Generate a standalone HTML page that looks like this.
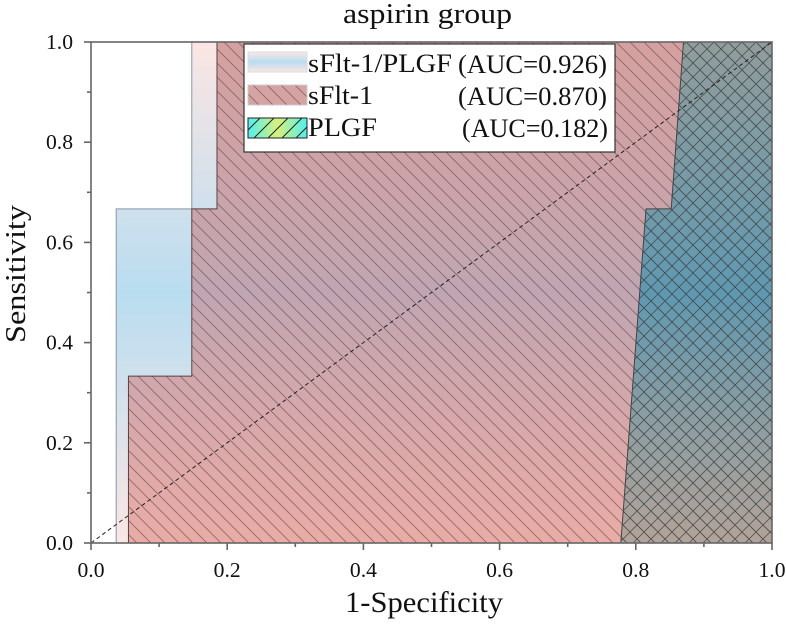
<!DOCTYPE html>
<html><head><meta charset="utf-8"><style>
body{margin:0;background:#fff}
svg{display:block;font-family:"Liberation Serif",serif}
</style></head><body>
<svg id="chart" width="786" height="624" viewBox="0 0 786 624">
<defs>
<linearGradient id="gBlue" x1="0" y1="0" x2="0" y2="1">
<stop offset="0" stop-color="#fbe6e4"/><stop offset="0.5" stop-color="#b9ddf0"/><stop offset="1" stop-color="#fbe6e4"/>
</linearGradient>
<linearGradient id="gPink" x1="0" y1="0" x2="0" y2="1">
<stop offset="0" stop-color="#c98d8c" stop-opacity="0.78"/><stop offset="0.5" stop-color="#c3858c" stop-opacity="0.62"/><stop offset="1" stop-color="#e6a29c" stop-opacity="0.85"/>
</linearGradient>
<linearGradient id="gTeal" x1="0" y1="0" x2="0" y2="1">
<stop offset="0" stop-color="#5a9a9a" stop-opacity="0.55"/><stop offset="0.5" stop-color="#1f8fb0" stop-opacity="0.6"/><stop offset="1" stop-color="#7a9a8a" stop-opacity="0.5"/>
</linearGradient>
<linearGradient id="gLegT" x1="0" y1="0" x2="1" y2="0">
<stop offset="0" stop-color="#4ff0f0"/><stop offset="0.5" stop-color="#d8f07a"/><stop offset="1" stop-color="#4ff0f0"/>
</linearGradient>
<pattern id="hatchBack" width="14" height="14" patternUnits="userSpaceOnUse">
<path d="M-2,-2 L16,16 M-9,5 L9,23 M5,-9 L23,9" stroke="#6a4848" stroke-width="0.8" stroke-opacity="0.7"/>
</pattern>
<pattern id="hatchFwd" width="14" height="14" patternUnits="userSpaceOnUse">
<path d="M-2,16 L16,-2 M-9,9 L9,-9 M5,23 L23,5" stroke="#222" stroke-width="1"/>
</pattern>
<pattern id="hatchCross" width="14" height="14" patternUnits="userSpaceOnUse">
<path d="M-2,-2 L16,16 M-9,5 L9,23 M5,-9 L23,9 M-2,16 L16,-2 M-9,9 L9,-9 M5,23 L23,5" stroke="#3a3a3a" stroke-width="0.8" stroke-opacity="0.75"/>
</pattern>
<clipPath id="plotClip"><rect x="91" y="42" width="681" height="501"/></clipPath>
</defs>
<g id="marks" clip-path="url(#plotClip)"></g>
<g id="axes"></g>
<text x="343" y="23" font-size="29" textLength="169" lengthAdjust="spacingAndGlyphs" fill="#111">aspirin group</text>
<text x="345" y="612" font-size="30" textLength="158" lengthAdjust="spacingAndGlyphs" fill="#111">1-Specificity</text>
<text transform="translate(25,343) rotate(-90)" font-size="29" textLength="138" lengthAdjust="spacingAndGlyphs" fill="#111">Sensitivity</text>
<g>
<rect x="244" y="44" width="371" height="108" fill="#fff" stroke="#333" stroke-width="1.2"/>
<rect x="248" y="52" width="59" height="20" fill="url(#gBlue)" stroke="#ddd"/>
<rect x="248" y="85" width="59" height="20" fill="#d6a3a3"/>
<rect x="248" y="85" width="59" height="20" fill="url(#hatchBack)" stroke="#ccc"/>
<rect x="248" y="118" width="59" height="20" fill="url(#gLegT)"/>
<rect x="248" y="118" width="59" height="20" fill="url(#hatchFwd)" stroke="#222"/>
<g font-size="26" fill="#111">
<text x="308" y="72" textLength="144" lengthAdjust="spacingAndGlyphs">sFlt-1/PLGF</text>
<text x="458" y="73" textLength="149" lengthAdjust="spacingAndGlyphs">(AUC=0.926)</text>
<text x="308" y="104" textLength="65" lengthAdjust="spacingAndGlyphs">sFlt-1</text>
<text x="458" y="105" textLength="149" lengthAdjust="spacingAndGlyphs">(AUC=0.870)</text>
<text x="308" y="136" textLength="69" lengthAdjust="spacingAndGlyphs">PLGF</text>
<text x="462" y="137" textLength="146" lengthAdjust="spacingAndGlyphs">(AUC=0.182)</text>
</g>
</g>
</svg>
<script>
const ratioFpr = [0, 0.037, 0.037, 0.148, 0.148, 1];
const ratioTpr = [0, 0, 0.667, 0.667, 1, 1];
const sfltFpr = [0, 0.055, 0.055, 0.148, 0.148, 0.185, 0.185, 1];
const sfltTpr = [0, 0, 0.333, 0.333, 0.667, 0.667, 1, 1];
const plgfFpr = [0.778, 0.815, 0.852, 0.870, 1];
const plgfTpr = [0, 0.667, 0.667, 1, 1];
const tickValues = [0, 0.2, 0.4, 0.6, 0.8, 1.0];
const tickLabels = ["0.0", "0.2", "0.4", "0.6", "0.8", "1.0"];
const minorValues = [0.1, 0.3, 0.5, 0.7, 0.9];

const X0 = 91, X1 = 772, Y0 = 543, Y1 = 42;
function sx(v){ return X0 + v * (X1 - X0); }
function sy(v){ return Y0 - v * (Y0 - Y1); }
const NS = "http://www.w3.org/2000/svg";
const marks = document.getElementById('marks');
const axes = document.getElementById('axes');

function areaPath(fx, ty){
  let d = "M" + sx(fx[0]) + "," + sy(0);
  for (let i = 0; i < fx.length; i++) d += " L" + sx(fx[i]) + "," + sy(ty[i]);
  d += " L" + sx(fx[fx.length-1]) + "," + sy(0) + " Z";
  return d;
}
function addPath(d, fill, stroke, name){
  const p = document.createElementNS(NS, 'path');
  p.setAttribute('d', d);
  p.setAttribute('fill', fill);
  p.setAttribute('stroke', stroke);
  p.setAttribute('stroke-width', '1');
  
  
  marks.appendChild(p);
  return p;
}
addPath(areaPath(ratioFpr, ratioTpr), 'url(#gBlue)', '#8a96a8', 'roc-area-sflt1-plgf');
addPath(areaPath(sfltFpr, sfltTpr), 'url(#gPink)', 'none', 'roc-area-sflt1');
addPath(areaPath(sfltFpr, sfltTpr), 'url(#hatchBack)', '#5a4040', 'roc-hatch-sflt1');
addPath(areaPath(plgfFpr, plgfTpr), 'url(#gTeal)', 'none', 'roc-area-plgf');
addPath(areaPath(plgfFpr, plgfTpr), 'url(#hatchCross)', '#444', 'roc-hatch-plgf');

const diag = document.createElementNS(NS, 'line');
diag.setAttribute('x1', sx(0)); diag.setAttribute('y1', sy(0));
diag.setAttribute('x2', sx(1)); diag.setAttribute('y2', sy(1));
diag.setAttribute('stroke', '#222'); diag.setAttribute('stroke-width', '1');
diag.setAttribute('stroke-dasharray', '4,3');


marks.appendChild(diag);

function line(x1,y1,x2,y2,name){
  const l = document.createElementNS(NS, 'line');
  l.setAttribute('x1', x1); l.setAttribute('y1', y1);
  l.setAttribute('x2', x2); l.setAttribute('y2', y2);
  l.setAttribute('stroke', '#666'); l.setAttribute('stroke-width', '1.6');
  
  
  axes.appendChild(l);
}
function text(x,y,s,anchor,name){
  const t = document.createElementNS(NS, 'text');
  t.setAttribute('x', x); t.setAttribute('y', y);
  t.setAttribute('text-anchor', anchor);
  t.setAttribute('font-size', '21'); t.setAttribute('fill', '#111');
  t.setAttribute('textLength', '27');
  t.setAttribute('lengthAdjust', 'spacingAndGlyphs');
  t.textContent = s;
  
  
  axes.appendChild(t);
}
const frame = document.createElementNS(NS, 'rect');
frame.setAttribute('x', X0); frame.setAttribute('y', Y1);
frame.setAttribute('width', X1 - X0); frame.setAttribute('height', Y0 - Y1);
frame.setAttribute('fill', 'none'); frame.setAttribute('stroke', '#666'); frame.setAttribute('stroke-width', '1.6');


axes.appendChild(frame);

tickValues.forEach((v, i) => {
  line(sx(v), Y0, sx(v), Y0 + 7, 'x-tick');
  text(sx(v), Y0 + 34, tickLabels[i], 'middle', 'x-tick-label');
  line(X0 - 7, sy(v), X0, sy(v), 'y-tick');
  text(X0 - 18, sy(v) + 7, tickLabels[i], 'end', 'y-tick-label');
});
minorValues.forEach(v => {
  line(sx(v), Y0, sx(v), Y0 + 4, 'x-minor-tick');
  line(X0 - 4, sy(v), X0, sy(v), 'y-minor-tick');
});
</script>
</body></html>
